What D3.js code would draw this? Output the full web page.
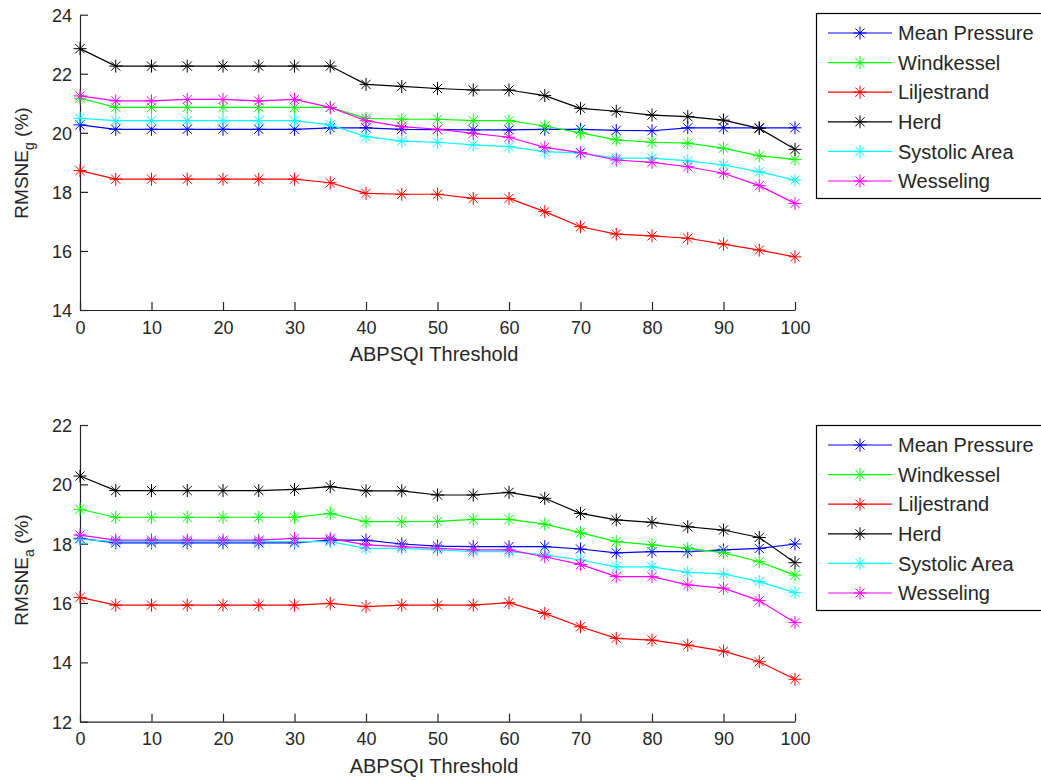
<!DOCTYPE html>
<html>
<head>
<meta charset="utf-8">
<script src="https://cdn.jsdelivr.net/npm/d3@7"></script>
<style>
  body { margin: 0; background: #fff; }
  svg { display: block; }
  text { font-family: "Liberation Sans", Arial, Helvetica, sans-serif; fill: #262626; }
</style>
</head>
<body>
<svg id="chart" width="1041" height="780"></svg>
<script>
const thresholds = [0,5,10,15,20,25,30,35,40,45,50,55,60,65,70,75,80,85,90,95,100];
const seriesNames = ["Mean Pressure","Windkessel","Liljestrand","Herd","Systolic Area","Wesseling"];
const seriesColors = ["#0000ff","#00ff00","#ff0000","#000000","#00ffff","#ff00ff"];

// Top panel: RMSNE_g (%)
const gMeanPressure = [20.27,20.12,20.12,20.12,20.12,20.12,20.12,20.17,20.17,20.12,20.11,20.10,20.10,20.12,20.12,20.08,20.07,20.17,20.17,20.17,20.17];
const gWindkessel   = [21.17,20.86,20.86,20.86,20.86,20.86,20.86,20.86,20.49,20.46,20.46,20.41,20.41,20.23,20.00,19.76,19.68,19.65,19.48,19.22,19.10];
const gLiljestrand  = [18.72,18.43,18.43,18.43,18.43,18.43,18.43,18.31,17.95,17.92,17.92,17.78,17.78,17.33,16.82,16.57,16.51,16.43,16.23,16.03,15.80];
const gHerd         = [22.85,22.26,22.26,22.26,22.26,22.26,22.26,22.26,21.64,21.57,21.50,21.45,21.45,21.26,20.83,20.73,20.60,20.55,20.43,20.15,19.44];
const gSystolic     = [20.49,20.41,20.41,20.41,20.41,20.41,20.41,20.27,19.87,19.72,19.68,19.59,19.53,19.36,19.31,19.14,19.14,19.05,18.91,18.68,18.40];
const gWesseling    = [21.25,21.08,21.08,21.13,21.13,21.08,21.13,20.86,20.41,20.21,20.12,19.98,19.85,19.51,19.33,19.08,19.00,18.85,18.63,18.21,17.61];

// Bottom panel: RMSNE_a (%)
const aMeanPressure = [18.18,18.03,18.03,18.03,18.03,18.03,18.03,18.12,18.12,17.99,17.92,17.90,17.90,17.90,17.82,17.69,17.73,17.73,17.79,17.84,17.99];
const aWindkessel   = [19.16,18.89,18.89,18.89,18.89,18.89,18.89,19.02,18.74,18.74,18.75,18.82,18.82,18.66,18.37,18.07,17.96,17.84,17.70,17.39,16.94];
const aLiljestrand  = [16.19,15.93,15.93,15.93,15.93,15.93,15.93,15.99,15.88,15.93,15.93,15.93,16.01,15.65,15.20,14.81,14.75,14.58,14.38,14.02,13.43];
const aHerd         = [20.28,19.79,19.79,19.79,19.79,19.79,19.83,19.92,19.78,19.78,19.64,19.64,19.73,19.53,19.02,18.80,18.72,18.57,18.46,18.21,17.36];
const aSystolic     = [18.15,18.07,18.07,18.07,18.07,18.07,18.07,18.07,17.84,17.84,17.79,17.73,17.73,17.62,17.45,17.22,17.22,17.03,16.98,16.72,16.35];
const aWesseling    = [18.29,18.12,18.12,18.12,18.12,18.12,18.18,18.18,17.96,17.90,17.84,17.79,17.79,17.56,17.30,16.89,16.89,16.61,16.50,16.08,15.34];

const xTicks = [0,10,20,30,40,50,60,70,80,90,100];
const gTicks = [14,16,18,20,22,24];
const aTicks = [12,14,16,18,20,22];

const panels = [
  { series: [gMeanPressure,gWindkessel,gLiljestrand,gHerd,gSystolic,gWesseling],
    yDomain: [14,24], yTicks: gTicks, top: 14.7, bottom: 310, sub: "g", labelY: 163, legendTop: 13, legendBottom: 198 },
  { series: [aMeanPressure,aWindkessel,aLiljestrand,aHerd,aSystolic,aWesseling],
    yDomain: [12,22], yTicks: aTicks, top: 425, bottom: 721.7, sub: "a", labelY: 570, legendTop: 425, legendBottom: 610 }
];

const svg = d3.select("#chart");
const x = d3.scaleLinear().domain([0,100]).range([80,795]);
const axisColor = "#262626";

function star(g, cx, cy, color) {
  const a = 6.5, b = 4.6;
  const p = d3.path();
  p.moveTo(cx - a, cy); p.lineTo(cx + a, cy);
  p.moveTo(cx, cy - a); p.lineTo(cx, cy + a);
  p.moveTo(cx - b, cy - b); p.lineTo(cx + b, cy + b);
  p.moveTo(cx - b, cy + b); p.lineTo(cx + b, cy - b);
  g.append("path").attr("d", p.toString()).attr("stroke", color).attr("stroke-width", 1).attr("fill", "none");
}

panels.forEach(panel => {
  const y = d3.scaleLinear().domain(panel.yDomain).range([panel.bottom, panel.top]);
  const g = svg.append("g");

  // axes
  const xAxis = d3.axisBottom(x).tickValues(xTicks).tickSizeInner(-8).tickSizeOuter(0).tickPadding(11);
  const yAxis = d3.axisLeft(y).tickValues(panel.yTicks).tickSizeInner(-8).tickSizeOuter(0).tickPadding(8);

  const gx = g.append("g").attr("transform", `translate(0,${panel.bottom})`).call(xAxis);
  const gy = g.append("g").attr("transform", `translate(${x(0)},0)`).call(yAxis);
  [gx, gy].forEach(a => {
    a.select(".domain").attr("stroke", axisColor).attr("stroke-width", 1.2);
    a.selectAll(".tick line").attr("stroke", axisColor).attr("stroke-width", 1.2);
    a.selectAll(".tick text").attr("font-size", 18).attr("fill", axisColor)
      .style("font-family", "'Liberation Sans', Arial, sans-serif");
  });
  gy.selectAll(".tick text").attr("dy", "0.36em");

  // lines
  const line = d3.line().x((d, i) => x(thresholds[i])).y(d => y(d));
  panel.series.forEach((vals, si) => {
    g.append("path").datum(vals).attr("d", line)
      .attr("fill", "none").attr("stroke", seriesColors[si]).attr("stroke-width", 1.2);
    vals.forEach((v, i) => star(g, x(thresholds[i]), y(v), seriesColors[si]));
  });

  // x label
  g.append("text").attr("x", 434).attr("y", panel.bottom + 51)
    .attr("text-anchor", "middle").attr("font-size", 20).text("ABPSQI Threshold");

  // y label
  const yl = g.append("text")
    .attr("transform", `translate(28,${panel.labelY}) rotate(-90)`)
    .attr("text-anchor", "middle").attr("font-size", 19);
  yl.append("tspan").text("RMSNE");
  yl.append("tspan").attr("dy", 6).attr("font-size", 14).text(panel.sub);
  yl.append("tspan").attr("dy", -6).text(" (%)");

  // legend
  const lg = g.append("g");
  lg.append("rect").attr("x", 816.5).attr("y", panel.legendTop + 0.5)
    .attr("width", 240).attr("height", panel.legendBottom - panel.legendTop)
    .attr("fill", "#fff").attr("stroke", "#000").attr("stroke-width", 1.2);
  seriesNames.forEach((name, i) => {
    const cy = panel.legendTop + 20 + i * 29.6;
    lg.append("line").attr("x1", 828).attr("x2", 892).attr("y1", cy).attr("y2", cy)
      .attr("stroke", seriesColors[i]).attr("stroke-width", 1.2);
    star(lg, 860, cy, seriesColors[i]);
    lg.append("text").attr("x", 898).attr("y", cy).attr("dy", "0.36em")
      .attr("font-size", 20).text(name);
  });
});
</script>
</body>
</html>
